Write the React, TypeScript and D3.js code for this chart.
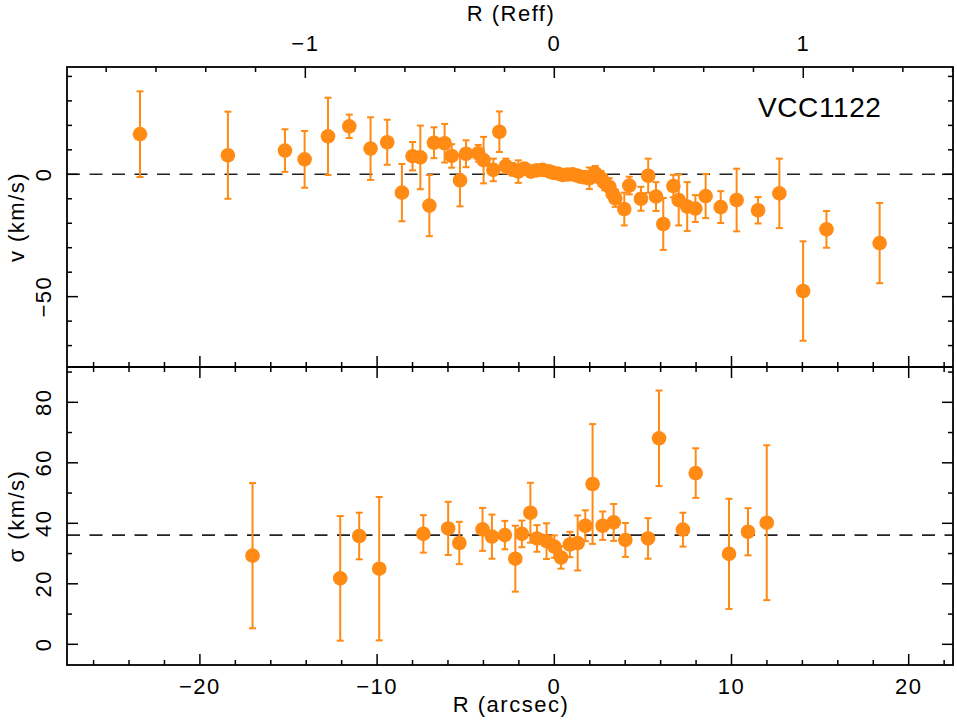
import React from "react";
import * as d3 from "d3";

// velocity profile (top panel)
const velR = [
  -23.38, -18.42, -15.2, -14.09, -12.77, -11.57, -10.37, -9.43, -8.6, -8.0, -7.56, -7.05, -6.79, -6.19,
  -5.79, -5.32, -4.98, -4.29, -3.99, -3.44, -3.1, -2.73, -2.35, -2.03, -1.69, -1.32, -1.0, -0.66, -0.3,
  -0.1, 0.2, 0.47, 0.75, 1.03, 1.28, 1.5, 1.75, 1.98, 2.31, 2.63, 2.85, 3.1, 3.3, 3.44, 3.95, 4.23, 4.89,
  5.3, 5.74, 6.15, 6.72, 7.02, 7.5, 7.96, 8.54, 9.39, 10.29, 11.5, 12.7, 14.04, 15.36, 18.36,
];
const velV = [
  16.4, 7.8, 9.7, 6.1, 15.5, 19.6, 10.5, 13.1, -7.5, 7.4, 6.9, -12.8, 12.9, 12.7,
  7.5, -2.5, 8.4, 8.6, 5.8, 1.8, 17.4, 3.4, 2.0, 1.1, 2.4, 1.1, 1.6, 1.8, 1.2,
  0.7, 0.3, -0.3, -0.1, 0.0, -0.5, -1.0, -1.2, -1.6, 0.4, -1.6, -3.5, -5.1, -8.0, -9.8, -14.2, -4.6, -10.0,
  -0.6, -9.1, -20.3, -4.8, -10.5, -13.2, -14.0, -8.9, -13.4, -10.5, -14.7, -7.8, -47.7, -22.5, -28.1,
];
const velErr = [
  17.5, 17.8, 8.7, 11.6, 15.8, 4.8, 12.8, 9.2, 11.7, 5.8, 13, 12.5, 6.3, 7.9,
  4.8, 10.6, 5.5, 3.4, 9.5, 4.6, 8.3, 3, 2.5, 4.6, 2, 2, 1.8, 1.5, 1.5,
  1.5, 1.5, 1.5, 1.5, 1.8, 2, 2, 2.5, 4.4, 3, 3, 3, 3.5, 3, 3.5, 6.7, 3.6, 4.9,
  7, 5.9, 10.6, 4.6, 10.4, 10, 5.5, 9, 6.5, 12.8, 5.4, 14.2, 20.3, 7.5, 16.4,
];

// dispersion profile (bottom panel)
const sigR = [
  -17.03, -12.08, -11.01, -9.88, -7.39, -5.99, -5.36, -4.05, -3.52, -2.79, -2.2, -1.83, -1.35, -0.98, -0.44,
  0, 0.38, 0.88, 1.32, 1.75, 2.16, 2.73, 3.35, 4.01, 5.29, 5.91, 7.26, 7.98, 9.86, 10.93, 11.99,
];
const sigV = [
  29.3, 21.8, 35.8, 25, 36.5, 38.3, 33.5, 38, 35.6, 36.1, 28.3, 36.5, 43.5, 35, 34.1,
  32.3, 28.7, 33, 33.5, 39.2, 53, 39.2, 40.3, 34.5, 35, 68.1, 37.9, 56.6, 29.9, 37.2, 40.2,
];
const sigErr = [
  24, 20.6, 7.7, 23.7, 6.2, 8.8, 7, 7.1, 7.3, 4.7, 10.9, 4.4, 9.9, 4.4, 5.9,
  3.7, 3.7, 4.2, 9.1, 5.1, 19.8, 4.7, 6.1, 5.6, 6.7, 15.8, 5.6, 8.2, 18.2, 7.8, 25.6,
];

const velRef = 0;
const sigRef = 36.1;
const reffArcsec = 14.05;
const galaxy = "VCC1122";

const ORANGE = "#ff8a14";
const FONT = "'Liberation Sans', Arial, sans-serif";

const L = 67, R = 953, T = 67, MID = 367, B = 665;

const x = d3.scaleLinear().domain([-27.5, 22.5]).range([L, R]);
const xr = d3.scaleLinear().domain([-27.5 / reffArcsec, 22.5 / reffArcsec]).range([L, R]);
const yTop = d3.scaleLinear().domain([-78.75, 43.85]).range([MID, T]);
const yBot = d3.scaleLinear().domain([-6.84, 91.67]).range([B, MID]);

const inRange = (s: d3.ScaleLinear<number, number>, step: number) => {
  const [a, b] = s.domain();
  return d3.range(Math.ceil(a / step - 1e-9), Math.floor(b / step + 1e-9) + 1).map((k) => +(k * step).toFixed(6));
};

function XTicks({ scale, y0, dir, major, minor }: any) {
  const maj = inRange(scale, major);
  const min = inRange(scale, minor);
  return (
    <g stroke="#000" strokeWidth={1.5}>
      {min.map((v: number) => {
        const len = maj.some((m: number) => Math.abs(m - v) < 1e-6) ? 11 : 5;
        return <line key={v} x1={scale(v)} x2={scale(v)} y1={y0} y2={y0 + dir * len} />;
      })}
    </g>
  );
}

function YTicks({ scale, major, minor }: any) {
  const maj = inRange(scale, major);
  const min = inRange(scale, minor);
  return (
    <g stroke="#000" strokeWidth={1.5}>
      {min.map((v: number) => {
        const len = maj.some((m: number) => Math.abs(m - v) < 1e-6) ? 11 : 5;
        return (
          <g key={v}>
            <line x1={L} x2={L + len} y1={scale(v)} y2={scale(v)} />
            <line x1={R} x2={R - len} y1={scale(v)} y2={scale(v)} />
          </g>
        );
      })}
    </g>
  );
}

const fmt = (v: number) => (v < 0 ? "\u2212" + Math.abs(v) : String(v));

function Points({ rs, vs, es, y }: any) {
  return (
    <g>
      <g stroke={ORANGE} strokeWidth={2}>
        {rs.map((r: number, i: number) => {
          const cx = x(r);
          const y1 = y(vs[i] + es[i]);
          const y2 = y(vs[i] - es[i]);
          return (
            <g key={i}>
              <line x1={cx} x2={cx} y1={y1} y2={y2} />
              <line x1={cx - 3.5} x2={cx + 3.5} y1={y1} y2={y1} />
              <line x1={cx - 3.5} x2={cx + 3.5} y1={y2} y2={y2} />
            </g>
          );
        })}
      </g>
      <g fill={ORANGE}>
        {rs.map((r: number, i: number) => (
          <circle key={i} cx={x(r)} cy={y(vs[i])} r={7.3} />
        ))}
      </g>
    </g>
  );
}

export default function App() {
  const tickFont = { fontFamily: FONT, fontSize: 22, letterSpacing: 1.5 } as any;
  return (
    <div style={{ position: "absolute", left: 0, top: 0 }}>
      <svg width={957} height={720} style={{ display: "block", background: "#fff" }}>
        <defs>
          <clipPath id="cTop"><rect x={L} y={T} width={R - L} height={MID - T} /></clipPath>
          <clipPath id="cBot"><rect x={L} y={MID} width={R - L} height={B - MID} /></clipPath>
        </defs>

        {/* reference lines */}
        <line x1={L} x2={R} y1={yTop(velRef)} y2={yTop(velRef)} stroke="#222" strokeWidth={1.6} strokeDasharray="13,9.5" />
        <line x1={L} x2={R} y1={yBot(sigRef)} y2={yBot(sigRef)} stroke="#222" strokeWidth={1.6} strokeDasharray="13,9.5" />

        <g clipPath="url(#cTop)">
          <Points rs={velR} vs={velV} es={velErr} y={yTop} />
        </g>
        <g clipPath="url(#cBot)">
          <Points rs={sigR} vs={sigV} es={sigErr} y={yBot} />
        </g>

        {/* ticks */}
        <XTicks scale={xr} y0={T} dir={1} major={1} minor={0.2} />
        <XTicks scale={x} y0={MID} dir={-1} major={10} minor={2} />
        <XTicks scale={x} y0={MID} dir={1} major={10} minor={2} />
        <XTicks scale={x} y0={B} dir={-1} major={10} minor={2} />
        <YTicks scale={yTop} major={50} minor={10} />
        <YTicks scale={yBot} major={20} minor={10} />

        {/* frames */}
        <rect x={L} y={T} width={R - L} height={B - T} fill="none" stroke="#000" strokeWidth={1.8} />
        <line x1={L} x2={R} y1={MID} y2={MID} stroke="#000" strokeWidth={1.8} />

        {/* tick labels */}
        <g {...tickFont} textAnchor="middle" fill="#000">
          {inRange(xr, 1).map((v) => (
            <text key={"r" + v} x={xr(v)} y={51}>{fmt(v)}</text>
          ))}
          {inRange(x, 10).map((v) => (
            <text key={"a" + v} x={x(v)} y={694}>{fmt(v)}</text>
          ))}
          {inRange(yTop, 50).map((v) => (
            <text key={"v" + v} transform={`translate(51,${yTop(v)}) rotate(-90)`}>{fmt(v)}</text>
          ))}
          {inRange(yBot, 20).map((v) => (
            <text key={"s" + v} transform={`translate(51,${yBot(v)}) rotate(-90)`}>{fmt(v)}</text>
          ))}
        </g>

        {/* axis titles */}
        <g {...tickFont} textAnchor="middle" fill="#000">
          <text x={511} y={21}>R (Reff)</text>
          <text x={511} y={712}>R (arcsec)</text>
          <text transform={`translate(24,${(T + MID) / 2}) rotate(-90)`}>v (km/s)</text>
          <text transform={`translate(24,${(MID + B) / 2}) rotate(-90)`}>σ (km/s)</text>
        </g>

        <text x={758} y={117} fontFamily={FONT} fontSize={28} letterSpacing={0.6} fill="#000">{galaxy}</text>
      </svg>
    </div>
  );
}
